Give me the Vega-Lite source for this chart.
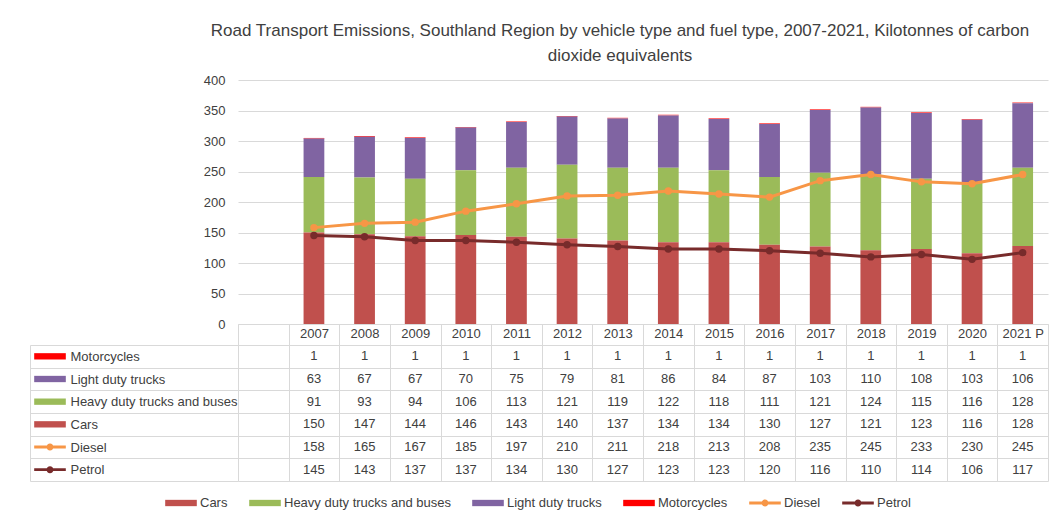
{
  "$schema": "https://vega.github.io/schema/vega-lite/v6.json",
  "width": 810,
  "height": 244,
  "autosize": {"type": "none"},
  "padding": {"left": 238, "top": 80, "right": 8, "bottom": 198},
  "background": "white",
  "config": {
    "font": "Liberation Sans",
    "view": {"stroke": null},
    "axis": {"labelFont": "Liberation Sans", "labelColor": "#404040", "labelFontSize": 13},
    "legend": {"labelFont": "Liberation Sans", "labelColor": "#404040", "labelFontSize": 13}
  },
  "title": {
    "text": ["Road Transport Emissions, Southland Region by vehicle type and fuel type, 2007-2021, Kilotonnes of carbon", "dioxide equivalents"],
    "fontSize": 17,
    "fontWeight": "normal",
    "color": "#404040",
    "anchor": "middle",
    "dx": -23,
    "offset": 9,
    "lineHeight": 25
  },
  "datasets": {
    "em": [
      {"year": "2007", "series": "Motorcycles", "value": 1},
      {"year": "2008", "series": "Motorcycles", "value": 1},
      {"year": "2009", "series": "Motorcycles", "value": 1},
      {"year": "2010", "series": "Motorcycles", "value": 1},
      {"year": "2011", "series": "Motorcycles", "value": 1},
      {"year": "2012", "series": "Motorcycles", "value": 1},
      {"year": "2013", "series": "Motorcycles", "value": 1},
      {"year": "2014", "series": "Motorcycles", "value": 1},
      {"year": "2015", "series": "Motorcycles", "value": 1},
      {"year": "2016", "series": "Motorcycles", "value": 1},
      {"year": "2017", "series": "Motorcycles", "value": 1},
      {"year": "2018", "series": "Motorcycles", "value": 1},
      {"year": "2019", "series": "Motorcycles", "value": 1},
      {"year": "2020", "series": "Motorcycles", "value": 1},
      {"year": "2021 P", "series": "Motorcycles", "value": 1},
      {"year": "2007", "series": "Light duty trucks", "value": 63},
      {"year": "2008", "series": "Light duty trucks", "value": 67},
      {"year": "2009", "series": "Light duty trucks", "value": 67},
      {"year": "2010", "series": "Light duty trucks", "value": 70},
      {"year": "2011", "series": "Light duty trucks", "value": 75},
      {"year": "2012", "series": "Light duty trucks", "value": 79},
      {"year": "2013", "series": "Light duty trucks", "value": 81},
      {"year": "2014", "series": "Light duty trucks", "value": 86},
      {"year": "2015", "series": "Light duty trucks", "value": 84},
      {"year": "2016", "series": "Light duty trucks", "value": 87},
      {"year": "2017", "series": "Light duty trucks", "value": 103},
      {"year": "2018", "series": "Light duty trucks", "value": 110},
      {"year": "2019", "series": "Light duty trucks", "value": 108},
      {"year": "2020", "series": "Light duty trucks", "value": 103},
      {"year": "2021 P", "series": "Light duty trucks", "value": 106},
      {"year": "2007", "series": "Heavy duty trucks and buses", "value": 91},
      {"year": "2008", "series": "Heavy duty trucks and buses", "value": 93},
      {"year": "2009", "series": "Heavy duty trucks and buses", "value": 94},
      {"year": "2010", "series": "Heavy duty trucks and buses", "value": 106},
      {"year": "2011", "series": "Heavy duty trucks and buses", "value": 113},
      {"year": "2012", "series": "Heavy duty trucks and buses", "value": 121},
      {"year": "2013", "series": "Heavy duty trucks and buses", "value": 119},
      {"year": "2014", "series": "Heavy duty trucks and buses", "value": 122},
      {"year": "2015", "series": "Heavy duty trucks and buses", "value": 118},
      {"year": "2016", "series": "Heavy duty trucks and buses", "value": 111},
      {"year": "2017", "series": "Heavy duty trucks and buses", "value": 121},
      {"year": "2018", "series": "Heavy duty trucks and buses", "value": 124},
      {"year": "2019", "series": "Heavy duty trucks and buses", "value": 115},
      {"year": "2020", "series": "Heavy duty trucks and buses", "value": 116},
      {"year": "2021 P", "series": "Heavy duty trucks and buses", "value": 128},
      {"year": "2007", "series": "Cars", "value": 150},
      {"year": "2008", "series": "Cars", "value": 147},
      {"year": "2009", "series": "Cars", "value": 144},
      {"year": "2010", "series": "Cars", "value": 146},
      {"year": "2011", "series": "Cars", "value": 143},
      {"year": "2012", "series": "Cars", "value": 140},
      {"year": "2013", "series": "Cars", "value": 137},
      {"year": "2014", "series": "Cars", "value": 134},
      {"year": "2015", "series": "Cars", "value": 134},
      {"year": "2016", "series": "Cars", "value": 130},
      {"year": "2017", "series": "Cars", "value": 127},
      {"year": "2018", "series": "Cars", "value": 121},
      {"year": "2019", "series": "Cars", "value": 123},
      {"year": "2020", "series": "Cars", "value": 116},
      {"year": "2021 P", "series": "Cars", "value": 128},
      {"year": "2007", "series": "Diesel", "value": 158},
      {"year": "2008", "series": "Diesel", "value": 165},
      {"year": "2009", "series": "Diesel", "value": 167},
      {"year": "2010", "series": "Diesel", "value": 185},
      {"year": "2011", "series": "Diesel", "value": 197},
      {"year": "2012", "series": "Diesel", "value": 210},
      {"year": "2013", "series": "Diesel", "value": 211},
      {"year": "2014", "series": "Diesel", "value": 218},
      {"year": "2015", "series": "Diesel", "value": 213},
      {"year": "2016", "series": "Diesel", "value": 208},
      {"year": "2017", "series": "Diesel", "value": 235},
      {"year": "2018", "series": "Diesel", "value": 245},
      {"year": "2019", "series": "Diesel", "value": 233},
      {"year": "2020", "series": "Diesel", "value": 230},
      {"year": "2021 P", "series": "Diesel", "value": 245},
      {"year": "2007", "series": "Petrol", "value": 145},
      {"year": "2008", "series": "Petrol", "value": 143},
      {"year": "2009", "series": "Petrol", "value": 137},
      {"year": "2010", "series": "Petrol", "value": 137},
      {"year": "2011", "series": "Petrol", "value": 134},
      {"year": "2012", "series": "Petrol", "value": 130},
      {"year": "2013", "series": "Petrol", "value": 127},
      {"year": "2014", "series": "Petrol", "value": 123},
      {"year": "2015", "series": "Petrol", "value": 123},
      {"year": "2016", "series": "Petrol", "value": 120},
      {"year": "2017", "series": "Petrol", "value": 116},
      {"year": "2018", "series": "Petrol", "value": 110},
      {"year": "2019", "series": "Petrol", "value": 114},
      {"year": "2020", "series": "Petrol", "value": 106},
      {"year": "2021 P", "series": "Petrol", "value": 117}
    ]
  },
  "data": {"name": "em"},
  "resolve": {"scale": {"x": "independent", "y": "independent"}},
  "layer": [
    {
      "layer": [
        {
          "transform": [{"filter": {"field": "series", "oneOf": ["Cars", "Heavy duty trucks and buses", "Light duty trucks", "Motorcycles"]}}],
          "mark": {"type": "bar", "width": {"band": 0.41}},
          "encoding": {
            "x": {
              "field": "year", "type": "nominal",
              "scale": {"domain": [" ", "2007", "2008", "2009", "2010", "2011", "2012", "2013", "2014", "2015", "2016", "2017", "2018", "2019", "2020", "2021 P"], "paddingInner": 0, "paddingOuter": 0},
              "axis": {"orient": "bottom", "title": null, "labelAngle": 0, "domainColor": "#d9d9d9", "tickBand": "extent", "tickSize": 157, "tickColor": "#d9d9d9", "labelPadding": -154, "grid": false}
            },
            "y": {
              "field": "value", "type": "quantitative", "stack": "zero",
              "scale": {"domain": [0, 400], "nice": false},
              "axis": {"values": [0, 50, 100, 150, 200, 250, 300, 350, 400], "labelOverlap": false, "title": null, "grid": true, "gridColor": "#d9d9d9", "domain": false, "ticks": false, "labelPadding": 13}
            },
            "order": {"field": "series", "sort": "ascending"},
            "color": {
              "field": "series", "type": "nominal",
              "scale": {
                "domain": ["Cars", "Heavy duty trucks and buses", "Light duty trucks", "Motorcycles", "Diesel", "Petrol"],
                "range": ["#C0504D", "#9BBB59", "#8064A2", "#FF0000", "#F79646", "#782B2B"]
              },
              "legend": {
                "orient": "none", "legendX": -73, "legendY": 407, "direction": "horizontal", "title": null,
                "symbolSize": 1000, "labelOffset": 3, "columnPadding": 21, "labelLimit": 400,
                "encode": {
                  "symbols": {
                    "update": {
                      "shape": {"signal": "datum.value === 'Diesel' || datum.value === 'Petrol' ? 'M-1,-0.09H1V0.09H-1ZM0.22,0A0.22,0.22,0,1,1,-0.22,0A0.22,0.22,0,1,1,0.22,0Z' : 'M-1,-0.2H1V0.2H-1Z'"},
                      "fill": {"signal": "scale('color', datum.value)"},
                      "strokeWidth": {"value": 0},
                      "opacity": {"value": 1},
                      "fillOpacity": {"value": 1}
                    }
                  }
                }
              }
            }
          }
        },
        {
          "transform": [{"filter": {"field": "series", "oneOf": ["Diesel", "Petrol"]}}],
          "mark": {"type": "line", "strokeWidth": 3},
          "encoding": {
            "x": {"field": "year", "type": "nominal"},
            "y": {
              "field": "value", "type": "quantitative",
              "scale": {"domain": [0, 400], "nice": false},
              "axis": {"values": [0, 50, 100, 150, 200, 250, 300, 350, 400], "labelOverlap": false, "title": null, "grid": true, "gridColor": "#d9d9d9", "domain": false, "ticks": false, "labelPadding": 13}
            },
            "color": {"field": "series", "type": "nominal"}
          }
        },
        {
          "transform": [{"filter": {"field": "series", "oneOf": ["Diesel", "Petrol"]}}],
          "mark": {"type": "point", "filled": true, "size": 55, "opacity": 1},
          "encoding": {
            "x": {"field": "year", "type": "nominal"},
            "y": {
              "field": "value", "type": "quantitative",
              "scale": {"domain": [0, 400], "nice": false},
              "axis": {"values": [0, 50, 100, 150, 200, 250, 300, 350, 400], "labelOverlap": false, "title": null, "grid": true, "gridColor": "#d9d9d9", "domain": false, "ticks": false, "labelPadding": 13}
            },
            "color": {"field": "series", "type": "nominal"}
          }
        }
      ]
    },
    {
      "resolve": {"scale": {"x": "independent"}},
      "layer": [
        {
          "mark": {"type": "text", "fontSize": 13, "color": "#404040", "font": "Liberation Sans"},
          "encoding": {
            "x": {
              "field": "year", "type": "nominal",
              "scale": {"domain": [" ", "2007", "2008", "2009", "2010", "2011", "2012", "2013", "2014", "2015", "2016", "2017", "2018", "2019", "2020", "2021 P"], "paddingInner": 0, "paddingOuter": 0},
              "axis": null
            },
            "y": {
              "field": "series", "type": "nominal",
              "scale": {"domain": ["Motorcycles", "Light duty trucks", "Heavy duty trucks and buses", "Cars", "Diesel", "Petrol"], "range": [265, 401], "paddingInner": 0, "paddingOuter": 0},
              "axis": {"orient": "left", "offset": 208, "title": null, "domain": true, "domainColor": "#d9d9d9", "ticks": true, "tickBand": "extent", "tickSize": -208, "tickColor": "#d9d9d9", "grid": true, "gridColor": "#d9d9d9", "labelAlign": "left", "labelPadding": 168, "labelLimit": 400}
            },
            "text": {"field": "value", "type": "quantitative"}
          }
        },
        {
          "transform": [{"filter": {"field": "year", "equal": "2007"}}],
          "mark": {"type": "point", "filled": true, "size": 1000, "opacity": 1},
          "encoding": {
            "x": {"datum": "key", "type": "nominal", "scale": {"type": "band", "domain": ["key"], "range": [-205, -171], "paddingInner": 0, "paddingOuter": 0}, "axis": null},
            "y": {
              "field": "series", "type": "nominal",
              "axis": {"orient": "left", "offset": 208, "title": null, "domain": true, "domainColor": "#d9d9d9", "ticks": true, "tickBand": "extent", "tickSize": -208, "tickColor": "#d9d9d9", "grid": true, "gridColor": "#d9d9d9", "labelAlign": "left", "labelPadding": 168, "labelLimit": 400}
            },
            "color": {"field": "series", "type": "nominal"},
            "shape": {
              "field": "series", "type": "nominal",
              "scale": {
                "domain": ["Motorcycles", "Light duty trucks", "Heavy duty trucks and buses", "Cars", "Diesel", "Petrol"],
                "range": ["M-1,-0.2H1V0.2H-1Z", "M-1,-0.2H1V0.2H-1Z", "M-1,-0.2H1V0.2H-1Z", "M-1,-0.2H1V0.2H-1Z", "M-1,-0.09H1V0.09H-1ZM0.22,0A0.22,0.22,0,1,1,-0.22,0A0.22,0.22,0,1,1,0.22,0Z", "M-1,-0.09H1V0.09H-1ZM0.22,0A0.22,0.22,0,1,1,-0.22,0A0.22,0.22,0,1,1,0.22,0Z"]
              },
              "legend": null
            }
          }
        }
      ]
    }
  ]
}
